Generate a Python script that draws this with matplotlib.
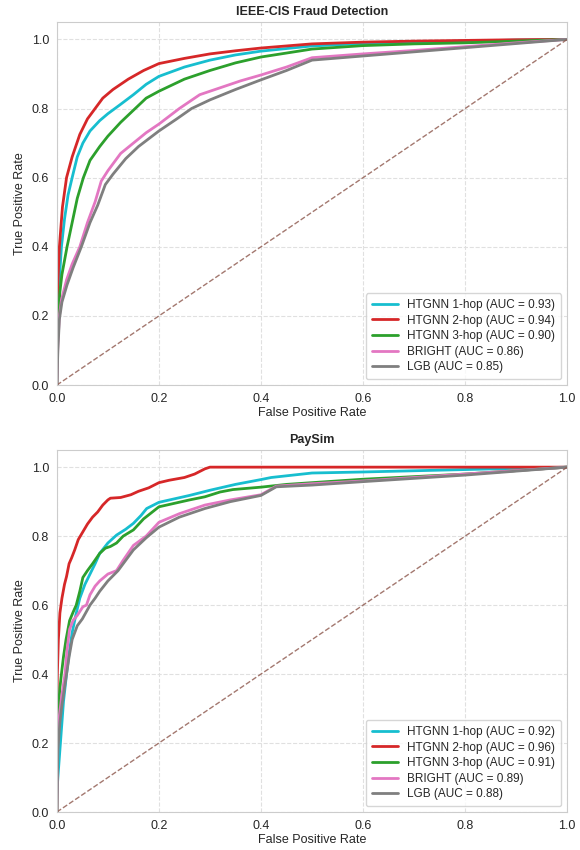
import numpy as np
import matplotlib
matplotlib.use('Agg')
import matplotlib.pyplot as plt
import seaborn as sns

sns.set_style('whitegrid', {'grid.linestyle': '--', 'grid.color': '.88'})
plt.rcParams['font.family'] = ['Liberation Sans', 'DejaVu Sans']

names = ['HTGNN 1-hop', 'HTGNN 2-hop', 'HTGNN 3-hop', 'BRIGHT', 'LGB']
colors = ['#17becf', '#d62728', '#2ca02c', '#e377c2', '#7f7f7f']

# IEEE-CIS
ieee_auc = [0.93, 0.94, 0.90, 0.86, 0.85]
ieee_fpr_1 = [0, 0.001, 0.003, 0.006, 0.009, 0.015, 0.022, 0.03, 0.04, 0.051, 0.065, 0.084, 0.1, 0.123, 0.15, 0.175, 0.2, 0.25, 0.3, 0.35, 0.4, 0.5, 0.6, 0.7, 0.8, 0.9, 1]
ieee_tpr_1 = [0, 0.15, 0.25, 0.33, 0.40, 0.48, 0.55, 0.60, 0.66, 0.70, 0.735, 0.765, 0.785, 0.81, 0.84, 0.87, 0.893, 0.92, 0.94, 0.955, 0.966, 0.981, 0.988, 0.992, 0.995, 0.998, 1]
ieee_fpr_2 = [0, 0.0, 0.001, 0.003, 0.005, 0.011, 0.019, 0.03, 0.045, 0.06, 0.075, 0.09, 0.11, 0.14, 0.17, 0.2, 0.25, 0.3, 0.35, 0.4, 0.5, 0.6, 0.7, 0.8, 0.9, 1]
ieee_tpr_2 = [0, 0.15, 0.25, 0.33, 0.40, 0.515, 0.60, 0.66, 0.725, 0.77, 0.80, 0.83, 0.855, 0.885, 0.91, 0.93, 0.945, 0.958, 0.967, 0.975, 0.987, 0.992, 0.995, 0.997, 0.999, 1]
ieee_fpr_3 = [0, 0.001, 0.003, 0.006, 0.01, 0.02, 0.03, 0.04, 0.052, 0.065, 0.084, 0.1, 0.125, 0.15, 0.175, 0.2, 0.25, 0.3, 0.35, 0.4, 0.5, 0.6, 0.7, 0.8, 0.9, 1]
ieee_tpr_3 = [0, 0.12, 0.2, 0.27, 0.32, 0.40, 0.47, 0.54, 0.60, 0.65, 0.69, 0.72, 0.76, 0.795, 0.83, 0.85, 0.885, 0.91, 0.932, 0.949, 0.972, 0.982, 0.987, 0.99, 0.995, 1]
ieee_fpr_b = [0, 0.002, 0.005, 0.009, 0.019, 0.03, 0.045, 0.06, 0.075, 0.087, 0.1, 0.125, 0.15, 0.175, 0.2, 0.24, 0.28, 0.32, 0.36, 0.4, 0.45, 0.5, 0.6, 0.7, 0.8, 0.9, 1]
ieee_tpr_b = [0, 0.12, 0.2, 0.246, 0.304, 0.35, 0.40, 0.47, 0.53, 0.59, 0.62, 0.67, 0.70, 0.73, 0.755, 0.80, 0.84, 0.86, 0.88, 0.897, 0.92, 0.947, 0.958, 0.968, 0.979, 0.99, 1]
ieee_fpr_l = [0, 0.002, 0.005, 0.01, 0.02, 0.032, 0.048, 0.065, 0.08, 0.095, 0.11, 0.135, 0.16, 0.2, 0.235, 0.264, 0.3, 0.35, 0.4, 0.45, 0.5, 0.6, 0.7, 0.8, 0.9, 1]
ieee_tpr_l = [0, 0.1, 0.19, 0.24, 0.29, 0.34, 0.40, 0.47, 0.52, 0.58, 0.61, 0.655, 0.69, 0.735, 0.77, 0.80, 0.825, 0.855, 0.883, 0.91, 0.94, 0.952, 0.964, 0.976, 0.988, 1]

# PaySim
pay_auc = [0.92, 0.96, 0.91, 0.89, 0.88]
pay_fpr_1 = [0, 0.0, 0.002, 0.005, 0.007, 0.01, 0.013, 0.016, 0.019, 0.024, 0.03, 0.037, 0.045, 0.055, 0.065, 0.075, 0.084, 0.1, 0.117, 0.135, 0.15, 0.165, 0.176, 0.2, 0.23, 0.26, 0.3, 0.35, 0.4, 0.42, 0.5, 0.6, 0.8, 1]
pay_tpr_1 = [0, 0.05, 0.1, 0.16, 0.2, 0.26, 0.32, 0.36, 0.40, 0.46, 0.52, 0.57, 0.62, 0.66, 0.69, 0.72, 0.75, 0.78, 0.803, 0.82, 0.837, 0.86, 0.88, 0.898, 0.908, 0.918, 0.933, 0.95, 0.964, 0.97, 0.983, 0.986, 0.993, 1]
pay_fpr_2 = [0, 0.0, 0.001, 0.003, 0.006, 0.01, 0.015, 0.019, 0.024, 0.029, 0.035, 0.042, 0.05, 0.06, 0.07, 0.08, 0.09, 0.1, 0.105, 0.125, 0.145, 0.16, 0.18, 0.2, 0.22, 0.25, 0.27, 0.29, 0.3, 0.5, 1]
pay_tpr_2 = [0, 0.25, 0.40, 0.50, 0.577, 0.62, 0.66, 0.683, 0.72, 0.737, 0.76, 0.79, 0.81, 0.835, 0.855, 0.87, 0.89, 0.905, 0.91, 0.912, 0.92, 0.93, 0.94, 0.955, 0.962, 0.97, 0.98, 0.995, 1.0, 1.0, 1]
pay_fpr_3 = [0, 0.001, 0.003, 0.006, 0.009, 0.013, 0.018, 0.025, 0.032, 0.038, 0.045, 0.051, 0.06, 0.07, 0.084, 0.095, 0.105, 0.117, 0.13, 0.15, 0.17, 0.2, 0.23, 0.26, 0.29, 0.32, 0.345, 0.4, 0.45, 0.5, 0.6, 0.8, 1]
pay_tpr_3 = [0, 0.2, 0.3, 0.36, 0.40, 0.45, 0.50, 0.555, 0.58, 0.60, 0.64, 0.68, 0.70, 0.72, 0.75, 0.765, 0.77, 0.78, 0.80, 0.818, 0.85, 0.885, 0.895, 0.905, 0.914, 0.928, 0.935, 0.942, 0.95, 0.955, 0.965, 0.98, 1]
pay_fpr_b = [0, 0.002, 0.005, 0.009, 0.013, 0.016, 0.02, 0.025, 0.032, 0.04, 0.051, 0.058, 0.065, 0.075, 0.084, 0.1, 0.117, 0.13, 0.15, 0.175, 0.2, 0.24, 0.29, 0.34, 0.4, 0.43, 0.5, 0.6, 0.8, 1]
pay_tpr_b = [0, 0.2, 0.28, 0.33, 0.37, 0.40, 0.47, 0.53, 0.556, 0.57, 0.595, 0.60, 0.63, 0.655, 0.67, 0.69, 0.70, 0.73, 0.773, 0.80, 0.84, 0.865, 0.89, 0.905, 0.92, 0.945, 0.952, 0.96, 0.98, 1]
pay_fpr_l = [0, 0.002, 0.006, 0.01, 0.015, 0.019, 0.024, 0.03, 0.04, 0.05, 0.065, 0.075, 0.084, 0.1, 0.12, 0.135, 0.15, 0.175, 0.2, 0.24, 0.29, 0.34, 0.4, 0.43, 0.5, 0.6, 0.8, 1]
pay_tpr_l = [0, 0.18, 0.26, 0.31, 0.36, 0.40, 0.45, 0.50, 0.54, 0.56, 0.60, 0.62, 0.64, 0.67, 0.70, 0.73, 0.76, 0.795, 0.826, 0.855, 0.88, 0.9, 0.918, 0.943, 0.948, 0.958, 0.977, 1]

panels = [
    ('IEEE-CIS Fraud Detection', ieee_auc,
     [(ieee_fpr_1, ieee_tpr_1), (ieee_fpr_2, ieee_tpr_2), (ieee_fpr_3, ieee_tpr_3),
      (ieee_fpr_b, ieee_tpr_b), (ieee_fpr_l, ieee_tpr_l)]),
    ('PaySim', pay_auc,
     [(pay_fpr_1, pay_tpr_1), (pay_fpr_2, pay_tpr_2), (pay_fpr_3, pay_tpr_3),
      (pay_fpr_b, pay_tpr_b), (pay_fpr_l, pay_tpr_l)]),
]

fig = plt.figure(figsize=(5.8, 8.5), dpi=100)
boxes = [[0.098, 0.547, 0.88, 0.427], [0.098, 0.0447, 0.88, 0.426]]

for box, (title, aucs, curves) in zip(boxes, panels):
    ax = fig.add_axes(box)
    for name, c, auc, (fpr, tpr) in zip(names, colors, aucs, curves):
        ax.plot(fpr, tpr, color=c, lw=2, label='%s (AUC = %.2f)' % (name, auc))
    ax.plot([0, 1], [0, 1], color='#8c564b', lw=1, linestyle='--', alpha=0.8)
    ax.set_xlim(0, 1)
    ax.set_ylim(0, 1.05)
    ax.set_title(title, fontsize=9, fontweight='bold', pad=5)
    ax.set_xlabel('False Positive Rate', fontsize=9, labelpad=2)
    ax.set_ylabel('True Positive Rate', fontsize=9)
    ax.tick_params(labelsize=9, pad=2)
    for s in ax.spines.values():
        s.set_color('.8')
    ax.legend(loc='lower right', fontsize=8.5, frameon=True, handlelength=2.2,
              borderpad=0.5, labelspacing=0.3)

plt.savefig('out.png', dpi=100)
